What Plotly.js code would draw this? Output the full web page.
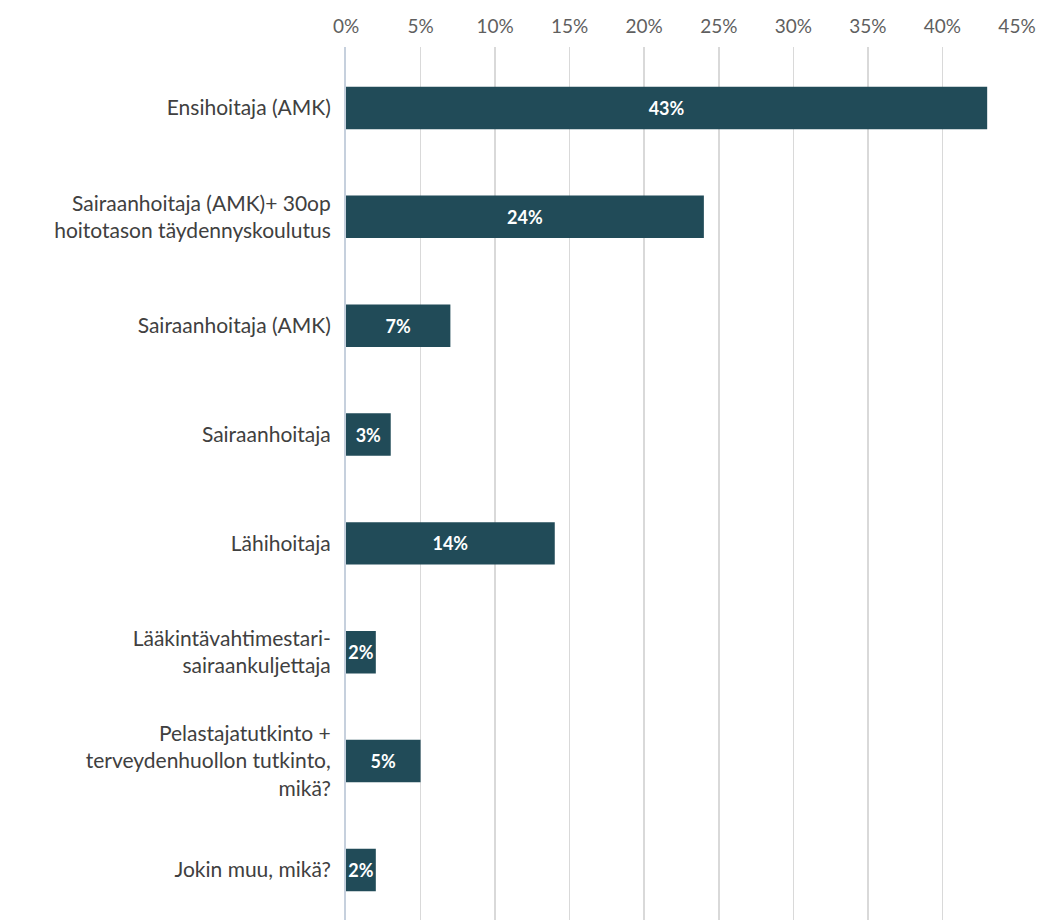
<!DOCTYPE html>
<html>
<head>
<meta charset="utf-8">
<script src="https://cdn.plot.ly/plotly-3.0.1.min.js"></script>
<style>html,body{margin:0;padding:0;background:#fff;}#chart{width:1037px;height:920px;}</style>
</head>
<body>
<div id="chart"></div>
<script>
const categories = [
  "Ensihoitaja (AMK)",
  "Sairaanhoitaja (AMK)+ 30op<br>hoitotason täydennyskoulutus",
  "Sairaanhoitaja (AMK)",
  "Sairaanhoitaja",
  "Lähihoitaja",
  "Lääkintävahtimestari-<br>sairaankuljettaja",
  "Pelastajatutkinto +<br>terveydenhuollon tutkinto,<br>mikä?",
  "Jokin muu, mikä?"
];
const values = [43, 24, 7, 3, 14, 2, 5, 2];
const xTicks = [0, 5, 10, 15, 20, 25, 30, 35, 40, 45];
const xTickLabels = xTicks.map(v => v + "%");

const trace = {
  type: "bar",
  orientation: "h",
  y: categories,
  x: values,
  text: values.map(v => v + "%"),
  textposition: "inside",
  insidetextanchor: "middle",
  textangle: 0,
  constraintext: "none",
  textfont: {family: "Lato, 'Open Sans', sans-serif", size: 18, color: "#ffffff", weight: "bold"},
  marker: {color: "#214b58", line: {color: "#214b58", width: 0}},
  width: 0.39,
  hoverinfo: "none"
};

const layout = {
  width: 1037,
  height: 920,
  margin: {l: 346, r: 20, t: 47, b: 0},
  paper_bgcolor: "#ffffff",
  plot_bgcolor: "#ffffff",
  showlegend: false,
  font: {family: "Lato, 'Open Sans', sans-serif"},
  xaxis: {
    side: "top",
    range: [0, 45],
    tickvals: xTicks,
    ticktext: xTickLabels,
    showgrid: true,
    gridcolor: "#d9d9d9",
    gridwidth: 1.5,
    zeroline: false,
    showline: false,
    ticks: "",
    ticklabelstandoff: 9,
    tickfont: {size: 19, color: "#5f5f5f"},
    fixedrange: true
  },
  yaxis: {
    type: "category",
    range: [7.46, -0.56],
    showgrid: false,
    zeroline: false,
    showline: true,
    linecolor: "#c6d0dd",
    linewidth: 2,
    ticks: "",
    ticklabelstandoff: 9,
    tickfont: {size: 21, color: "#404040"},
    fixedrange: true
  }
};

Plotly.newPlot("chart", [trace], layout, {displayModeBar: false, staticPlot: true});
</script>
</body>
</html>
